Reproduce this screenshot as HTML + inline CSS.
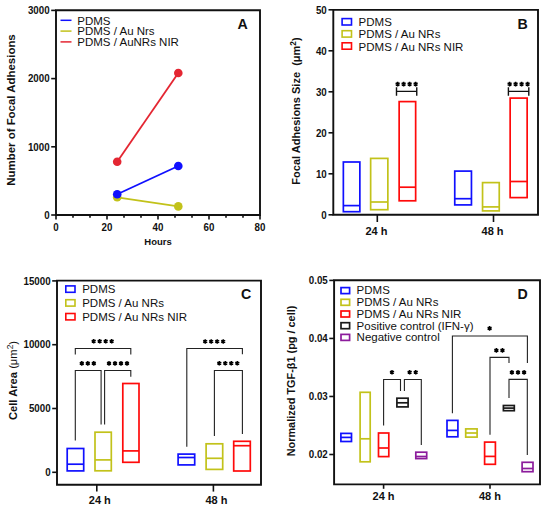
<!DOCTYPE html>
<html><head><meta charset="utf-8"><style>
html,body{margin:0;padding:0;background:#fff;width:550px;height:508px;overflow:hidden}
svg{display:block}
text{font-family:"Liberation Sans",sans-serif}
</style></head><body>
<svg width="550" height="508" viewBox="0 0 550 508">
<rect width="550" height="508" fill="#fff"/>
<path d="M56,10.3 H260 V215 H56 Z" fill="none" stroke="#111" stroke-width="1.9"/>
<line x1="51.2" y1="215" x2="56" y2="215" stroke="#111" stroke-width="1.6"/>
<text transform="translate(49.6,218.7) scale(0.93,1)" font-size="10.5" font-weight="bold" text-anchor="end" fill="#111">0</text>
<line x1="51.2" y1="146.8" x2="56" y2="146.8" stroke="#111" stroke-width="1.6"/>
<text transform="translate(49.6,150.5) scale(0.93,1)" font-size="10.5" font-weight="bold" text-anchor="end" fill="#111">1000</text>
<line x1="51.2" y1="78.6" x2="56" y2="78.6" stroke="#111" stroke-width="1.6"/>
<text transform="translate(49.6,82.3) scale(0.93,1)" font-size="10.5" font-weight="bold" text-anchor="end" fill="#111">2000</text>
<line x1="51.2" y1="10.4" x2="56" y2="10.4" stroke="#111" stroke-width="1.6"/>
<text transform="translate(49.6,14.100000000000001) scale(0.93,1)" font-size="10.5" font-weight="bold" text-anchor="end" fill="#111">3000</text>
<line x1="56" y1="215" x2="56" y2="219.5" stroke="#111" stroke-width="1.6"/>
<text transform="translate(56,230.8) scale(0.93,1)" font-size="10.5" font-weight="bold" text-anchor="middle" fill="#111">0</text>
<line x1="73" y1="215" x2="73" y2="217.8" stroke="#111" stroke-width="1.6"/>
<line x1="90" y1="215" x2="90" y2="217.8" stroke="#111" stroke-width="1.6"/>
<line x1="107" y1="215" x2="107" y2="219.5" stroke="#111" stroke-width="1.6"/>
<text transform="translate(107,230.8) scale(0.93,1)" font-size="10.5" font-weight="bold" text-anchor="middle" fill="#111">20</text>
<line x1="124" y1="215" x2="124" y2="217.8" stroke="#111" stroke-width="1.6"/>
<line x1="141" y1="215" x2="141" y2="217.8" stroke="#111" stroke-width="1.6"/>
<line x1="158" y1="215" x2="158" y2="219.5" stroke="#111" stroke-width="1.6"/>
<text transform="translate(158,230.8) scale(0.93,1)" font-size="10.5" font-weight="bold" text-anchor="middle" fill="#111">40</text>
<line x1="175" y1="215" x2="175" y2="217.8" stroke="#111" stroke-width="1.6"/>
<line x1="192" y1="215" x2="192" y2="217.8" stroke="#111" stroke-width="1.6"/>
<line x1="209" y1="215" x2="209" y2="219.5" stroke="#111" stroke-width="1.6"/>
<text transform="translate(209,230.8) scale(0.93,1)" font-size="10.5" font-weight="bold" text-anchor="middle" fill="#111">60</text>
<line x1="226" y1="215" x2="226" y2="217.8" stroke="#111" stroke-width="1.6"/>
<line x1="243" y1="215" x2="243" y2="217.8" stroke="#111" stroke-width="1.6"/>
<line x1="260" y1="215" x2="260" y2="219.5" stroke="#111" stroke-width="1.6"/>
<text transform="translate(260,230.8) scale(0.93,1)" font-size="10.5" font-weight="bold" text-anchor="middle" fill="#111">80</text>
<text x="158" y="244.9" font-size="9.5" font-weight="bold" text-anchor="middle" fill="#111" >Hours</text>
<text transform="translate(14.9,110) rotate(-90)" x="0" y="0" font-size="11.45" font-weight="bold" text-anchor="middle" fill="#111">Number of Focal Adhesions</text>
<line x1="117.2" y1="161.8" x2="178.3" y2="73" stroke="#e42632" stroke-width="1.8"/>
<circle cx="117.2" cy="161.8" r="4.3" fill="#e42632"/><circle cx="178.3" cy="73" r="4.3" fill="#e42632"/>
<line x1="117.2" y1="197.3" x2="178.3" y2="206.4" stroke="#c2c21a" stroke-width="1.8"/>
<circle cx="117.2" cy="197.3" r="4.3" fill="#c2c21a"/><circle cx="178.3" cy="206.4" r="4.3" fill="#c2c21a"/>
<line x1="117.2" y1="194.2" x2="178.3" y2="166" stroke="#1010ff" stroke-width="1.8"/>
<circle cx="117.2" cy="194.2" r="4.3" fill="#1010ff"/><circle cx="178.3" cy="166" r="4.3" fill="#1010ff"/>
<line x1="60.5" y1="20.3" x2="71.5" y2="20.3" stroke="#1010ff" stroke-width="1.5"/>
<text x="77.3" y="24.5" font-size="11.5" font-weight="normal" text-anchor="start" fill="#111" >PDMS</text>
<line x1="60.5" y1="31.1" x2="71.5" y2="31.1" stroke="#c2c21a" stroke-width="1.5"/>
<text x="77.3" y="35.300000000000004" font-size="11.5" font-weight="normal" text-anchor="start" fill="#111" >PDMS / Au Nrs</text>
<line x1="60.5" y1="41.900000000000006" x2="71.5" y2="41.900000000000006" stroke="#e42632" stroke-width="1.5"/>
<text x="77.3" y="46.10000000000001" font-size="11.5" font-weight="normal" text-anchor="start" fill="#111" >PDMS / AuNRs NIR</text>
<text x="242.5" y="28.9" font-size="14.2" font-weight="bold" text-anchor="middle" fill="#111" >A</text>
<path d="M333.3,9.9 H538 V214.8 H333.3 Z" fill="none" stroke="#111" stroke-width="1.9"/>
<line x1="328.5" y1="214.8" x2="333.3" y2="214.8" stroke="#111" stroke-width="1.6"/>
<text transform="translate(326.8,218.5) scale(0.93,1)" font-size="10.5" font-weight="bold" text-anchor="end" fill="#111">0</text>
<line x1="328.5" y1="173.8" x2="333.3" y2="173.8" stroke="#111" stroke-width="1.6"/>
<text transform="translate(326.8,177.5) scale(0.93,1)" font-size="10.5" font-weight="bold" text-anchor="end" fill="#111">10</text>
<line x1="328.5" y1="132.8" x2="333.3" y2="132.8" stroke="#111" stroke-width="1.6"/>
<text transform="translate(326.8,136.5) scale(0.93,1)" font-size="10.5" font-weight="bold" text-anchor="end" fill="#111">20</text>
<line x1="328.5" y1="91.80000000000001" x2="333.3" y2="91.80000000000001" stroke="#111" stroke-width="1.6"/>
<text transform="translate(326.8,95.50000000000001) scale(0.93,1)" font-size="10.5" font-weight="bold" text-anchor="end" fill="#111">30</text>
<line x1="328.5" y1="50.80000000000001" x2="333.3" y2="50.80000000000001" stroke="#111" stroke-width="1.6"/>
<text transform="translate(326.8,54.500000000000014) scale(0.93,1)" font-size="10.5" font-weight="bold" text-anchor="end" fill="#111">40</text>
<line x1="328.5" y1="9.800000000000011" x2="333.3" y2="9.800000000000011" stroke="#111" stroke-width="1.6"/>
<text transform="translate(326.8,13.50000000000001) scale(0.93,1)" font-size="10.5" font-weight="bold" text-anchor="end" fill="#111">50</text>
<line x1="377.3" y1="214.8" x2="377.3" y2="222" stroke="#111" stroke-width="1.6"/>
<text x="376.40000000000003" y="235" font-size="11" font-weight="bold" text-anchor="middle" fill="#111" >24 h</text>
<line x1="493.5" y1="214.8" x2="493.5" y2="222" stroke="#111" stroke-width="1.6"/>
<text x="492.6" y="235" font-size="11" font-weight="bold" text-anchor="middle" fill="#111" >48 h</text>
<rect x="343.35" y="162.0" width="16.5" height="49.70000000000002" fill="none" stroke="#1010ff" stroke-width="1.7"/>
<line x1="343.35" y1="205.6" x2="359.85" y2="205.6" stroke="#1010ff" stroke-width="1.7"/>
<rect x="370.65" y="158.39999999999998" width="17.200000000000045" height="51.30000000000004" fill="none" stroke="#c2c21a" stroke-width="1.7"/>
<line x1="370.65" y1="202" x2="387.85" y2="202" stroke="#c2c21a" stroke-width="1.7"/>
<rect x="399.15" y="101.60000000000001" width="16.5" height="99.2" fill="none" stroke="#ff0a0a" stroke-width="1.7"/>
<line x1="399.15" y1="187.2" x2="415.65" y2="187.2" stroke="#ff0a0a" stroke-width="1.7"/>
<rect x="454.75" y="171.1" width="16.69999999999999" height="33.80000000000001" fill="none" stroke="#1010ff" stroke-width="1.7"/>
<line x1="454.75" y1="198.7" x2="471.45" y2="198.7" stroke="#1010ff" stroke-width="1.7"/>
<rect x="482.55" y="182.6" width="16.69999999999999" height="28.30000000000001" fill="none" stroke="#c2c21a" stroke-width="1.7"/>
<line x1="482.55" y1="206.9" x2="499.25" y2="206.9" stroke="#c2c21a" stroke-width="1.7"/>
<rect x="510.15" y="98.10000000000001" width="17.0" height="99.50000000000001" fill="none" stroke="#ff0a0a" stroke-width="1.7"/>
<line x1="510.15" y1="181.5" x2="527.15" y2="181.5" stroke="#ff0a0a" stroke-width="1.7"/>
<path d="M396.5,87.2 V95.8 M416.75,87.2 V95.8 M396.5,91.4 H416.75" fill="none" stroke="#111" stroke-width="1.4"/>
<path d="M397.62,81.80L397.62,86.40M395.63,82.95L399.62,85.25M399.62,82.95L395.63,85.25" stroke="#000" stroke-width="1.5" fill="none"/>
<path d="M403.62,81.80L403.62,86.40M401.63,82.95L405.62,85.25M405.62,82.95L401.63,85.25" stroke="#000" stroke-width="1.5" fill="none"/>
<path d="M409.62,81.80L409.62,86.40M407.63,82.95L411.62,85.25M411.62,82.95L407.63,85.25" stroke="#000" stroke-width="1.5" fill="none"/>
<path d="M415.62,81.80L415.62,86.40M413.63,82.95L417.62,85.25M417.62,82.95L413.63,85.25" stroke="#000" stroke-width="1.5" fill="none"/>
<path d="M508.4,87.2 V95.8 M528.8,87.2 V95.8 M508.4,91.4 H528.8" fill="none" stroke="#111" stroke-width="1.4"/>
<path d="M509.60,81.80L509.60,86.40M507.61,82.95L511.59,85.25M511.59,82.95L507.61,85.25" stroke="#000" stroke-width="1.5" fill="none"/>
<path d="M515.60,81.80L515.60,86.40M513.61,82.95L517.59,85.25M517.59,82.95L513.61,85.25" stroke="#000" stroke-width="1.5" fill="none"/>
<path d="M521.60,81.80L521.60,86.40M519.61,82.95L523.59,85.25M523.59,82.95L519.61,85.25" stroke="#000" stroke-width="1.5" fill="none"/>
<path d="M527.60,81.80L527.60,86.40M525.61,82.95L529.59,85.25M529.59,82.95L525.61,85.25" stroke="#000" stroke-width="1.5" fill="none"/>
<rect x="342.1" y="18.6" width="9.4" height="6.4" fill="none" stroke="#1010ff" stroke-width="1.6"/>
<text x="358.6" y="26.3" font-size="11.5" font-weight="normal" text-anchor="start" fill="#111" >PDMS</text>
<rect x="342.1" y="30.7" width="9.4" height="6.4" fill="none" stroke="#c2c21a" stroke-width="1.6"/>
<text x="358.6" y="38.4" font-size="11.5" font-weight="normal" text-anchor="start" fill="#111" >PDMS / Au NRs</text>
<rect x="342.1" y="42.8" width="9.4" height="6.4" fill="none" stroke="#ff0a0a" stroke-width="1.6"/>
<text x="358.6" y="50.5" font-size="11.5" font-weight="normal" text-anchor="start" fill="#111" >PDMS / Au NRs NIR</text>
<text x="522.7" y="29" font-size="14.2" font-weight="bold" text-anchor="middle" fill="#111" >B</text>
<text transform="translate(300.3,111) rotate(-90)" x="0" y="0" font-size="11" font-weight="bold" text-anchor="middle" fill="#111">Focal Adhesions Size&#160;&#160;(&#956;m<tspan dy="-4.6" font-size="8.4">2</tspan><tspan dy="4.6">)</tspan></text>
<path d="M57,280.6 H261 V484.8 H57 Z" fill="none" stroke="#111" stroke-width="1.9"/>
<line x1="52.2" y1="472.3" x2="57" y2="472.3" stroke="#111" stroke-width="1.6"/>
<text transform="translate(50.6,476.0) scale(0.93,1)" font-size="10.5" font-weight="bold" text-anchor="end" fill="#111">0</text>
<line x1="52.2" y1="408.5" x2="57" y2="408.5" stroke="#111" stroke-width="1.6"/>
<text transform="translate(50.6,412.2) scale(0.93,1)" font-size="10.5" font-weight="bold" text-anchor="end" fill="#111">5000</text>
<line x1="52.2" y1="344.70000000000005" x2="57" y2="344.70000000000005" stroke="#111" stroke-width="1.6"/>
<text transform="translate(50.6,348.40000000000003) scale(0.93,1)" font-size="10.5" font-weight="bold" text-anchor="end" fill="#111">10000</text>
<line x1="52.2" y1="280.90000000000003" x2="57" y2="280.90000000000003" stroke="#111" stroke-width="1.6"/>
<text transform="translate(50.6,284.6) scale(0.93,1)" font-size="10.5" font-weight="bold" text-anchor="end" fill="#111">15000</text>
<line x1="96.8" y1="484.8" x2="96.8" y2="491.6" stroke="#111" stroke-width="1.6"/>
<text x="99.8" y="503.6" font-size="11" font-weight="bold" text-anchor="middle" fill="#111" >24 h</text>
<line x1="213.4" y1="484.8" x2="213.4" y2="491.6" stroke="#111" stroke-width="1.6"/>
<text x="216.4" y="503.6" font-size="11" font-weight="bold" text-anchor="middle" fill="#111" >48 h</text>
<rect x="67.2" y="448.5" width="16.499999999999986" height="22.400000000000034" fill="none" stroke="#1010ff" stroke-width="1.7"/>
<line x1="67.2" y1="464.2" x2="83.69999999999999" y2="464.2" stroke="#1010ff" stroke-width="1.7"/>
<rect x="95.0" y="432.2" width="16.299999999999997" height="38.60000000000002" fill="none" stroke="#c2c21a" stroke-width="1.7"/>
<line x1="95.0" y1="459.9" x2="111.3" y2="459.9" stroke="#c2c21a" stroke-width="1.7"/>
<rect x="122.80000000000001" y="383.5" width="16.19999999999999" height="78.80000000000001" fill="none" stroke="#ff0a0a" stroke-width="1.7"/>
<line x1="122.80000000000001" y1="450.9" x2="139.0" y2="450.9" stroke="#ff0a0a" stroke-width="1.7"/>
<rect x="178.1" y="454.09999999999997" width="16.599999999999994" height="10.800000000000068" fill="none" stroke="#1010ff" stroke-width="1.7"/>
<line x1="178.1" y1="457.5" x2="194.7" y2="457.5" stroke="#1010ff" stroke-width="1.7"/>
<rect x="206.1" y="443.79999999999995" width="16.599999999999994" height="25.60000000000008" fill="none" stroke="#c2c21a" stroke-width="1.7"/>
<line x1="206.1" y1="458.3" x2="222.7" y2="458.3" stroke="#c2c21a" stroke-width="1.7"/>
<rect x="233.70000000000002" y="441.29999999999995" width="16.599999999999966" height="29.700000000000045" fill="none" stroke="#ff0a0a" stroke-width="1.7"/>
<line x1="233.70000000000002" y1="445.7" x2="250.29999999999998" y2="445.7" stroke="#ff0a0a" stroke-width="1.7"/>
<path d="M75.3,354.5 V348.5 H130.8 V354.5" fill="none" stroke="#222" stroke-width="1.1"/>
<path d="M75.3,440.5 V370.5 H101.1 V424.5" fill="none" stroke="#222" stroke-width="1.1"/>
<path d="M104.6,424.5 V370.5 H130.8 V376.7" fill="none" stroke="#222" stroke-width="1.1"/>
<path d="M93.70,338.90L93.70,343.50M91.71,340.05L95.69,342.35M95.69,340.05L91.71,342.35" stroke="#000" stroke-width="1.5" fill="none"/>
<path d="M99.70,338.90L99.70,343.50M97.71,340.05L101.69,342.35M101.69,340.05L97.71,342.35" stroke="#000" stroke-width="1.5" fill="none"/>
<path d="M105.70,338.90L105.70,343.50M103.71,340.05L107.69,342.35M107.69,340.05L103.71,342.35" stroke="#000" stroke-width="1.5" fill="none"/>
<path d="M111.70,338.90L111.70,343.50M109.71,340.05L113.69,342.35M113.69,340.05L109.71,342.35" stroke="#000" stroke-width="1.5" fill="none"/>
<path d="M81.80,361.10L81.80,365.70M79.81,362.25L83.79,364.55M83.79,362.25L79.81,364.55" stroke="#000" stroke-width="1.5" fill="none"/>
<path d="M87.80,361.10L87.80,365.70M85.81,362.25L89.79,364.55M89.79,362.25L85.81,364.55" stroke="#000" stroke-width="1.5" fill="none"/>
<path d="M93.80,361.10L93.80,365.70M91.81,362.25L95.79,364.55M95.79,362.25L91.81,364.55" stroke="#000" stroke-width="1.5" fill="none"/>
<path d="M109.00,361.10L109.00,365.70M107.01,362.25L110.99,364.55M110.99,362.25L107.01,364.55" stroke="#000" stroke-width="1.5" fill="none"/>
<path d="M115.00,361.10L115.00,365.70M113.01,362.25L116.99,364.55M116.99,362.25L113.01,364.55" stroke="#000" stroke-width="1.5" fill="none"/>
<path d="M121.00,361.10L121.00,365.70M119.01,362.25L122.99,364.55M122.99,362.25L119.01,364.55" stroke="#000" stroke-width="1.5" fill="none"/>
<path d="M127.00,361.10L127.00,365.70M125.01,362.25L128.99,364.55M128.99,362.25L125.01,364.55" stroke="#000" stroke-width="1.5" fill="none"/>
<path d="M186.8,446.7 V348.5 H242.4 V354.2" fill="none" stroke="#222" stroke-width="1.1"/>
<path d="M214.4,436.1 V370.5 H242.4 V434.1" fill="none" stroke="#222" stroke-width="1.1"/>
<path d="M205.20,339.20L205.20,343.80M203.21,340.35L207.19,342.65M207.19,340.35L203.21,342.65" stroke="#000" stroke-width="1.5" fill="none"/>
<path d="M211.20,339.20L211.20,343.80M209.21,340.35L213.19,342.65M213.19,340.35L209.21,342.65" stroke="#000" stroke-width="1.5" fill="none"/>
<path d="M217.20,339.20L217.20,343.80M215.21,340.35L219.19,342.65M219.19,340.35L215.21,342.65" stroke="#000" stroke-width="1.5" fill="none"/>
<path d="M223.20,339.20L223.20,343.80M221.21,340.35L225.19,342.65M225.19,340.35L221.21,342.65" stroke="#000" stroke-width="1.5" fill="none"/>
<path d="M219.30,361.00L219.30,365.60M217.31,362.15L221.29,364.45M221.29,362.15L217.31,364.45" stroke="#000" stroke-width="1.5" fill="none"/>
<path d="M225.30,361.00L225.30,365.60M223.31,362.15L227.29,364.45M227.29,362.15L223.31,364.45" stroke="#000" stroke-width="1.5" fill="none"/>
<path d="M231.30,361.00L231.30,365.60M229.31,362.15L233.29,364.45M233.29,362.15L229.31,364.45" stroke="#000" stroke-width="1.5" fill="none"/>
<path d="M237.30,361.00L237.30,365.60M235.31,362.15L239.29,364.45M239.29,362.15L235.31,364.45" stroke="#000" stroke-width="1.5" fill="none"/>
<rect x="65.8" y="285.9" width="9.2" height="6.4" fill="none" stroke="#1010ff" stroke-width="1.6"/>
<text x="82.2" y="293.09999999999997" font-size="11.5" font-weight="normal" text-anchor="start" fill="#111" >PDMS</text>
<rect x="65.8" y="299.7" width="9.2" height="6.4" fill="none" stroke="#c2c21a" stroke-width="1.6"/>
<text x="82.2" y="306.9" font-size="11.5" font-weight="normal" text-anchor="start" fill="#111" >PDMS / Au NRs</text>
<rect x="65.8" y="313.5" width="9.2" height="6.4" fill="none" stroke="#ff0a0a" stroke-width="1.6"/>
<text x="82.2" y="320.7" font-size="11.5" font-weight="normal" text-anchor="start" fill="#111" >PDMS / Au NRs NIR</text>
<text x="246" y="299" font-size="14.2" font-weight="bold" text-anchor="middle" fill="#111" >C</text>
<text transform="translate(17.3,380.5) rotate(-90)" x="0" y="0" font-size="11.2" font-weight="bold" text-anchor="middle" fill="#111">Cell Area <tspan font-weight="normal">(&#956;m<tspan dy="-4.6" font-size="8.4">2</tspan><tspan dy="4.6">)</tspan></tspan></text>
<path d="M334.1,280.2 H540 V484.4 H334.1 Z" fill="none" stroke="#111" stroke-width="1.9"/>
<line x1="329.3" y1="454.5" x2="334.1" y2="454.5" stroke="#111" stroke-width="1.6"/>
<text transform="translate(327.8,458.2) scale(0.93,1)" font-size="10.5" font-weight="bold" text-anchor="end" fill="#111">0.02</text>
<line x1="329.3" y1="396.47" x2="334.1" y2="396.47" stroke="#111" stroke-width="1.6"/>
<text transform="translate(327.8,400.17) scale(0.93,1)" font-size="10.5" font-weight="bold" text-anchor="end" fill="#111">0.03</text>
<line x1="329.3" y1="338.44" x2="334.1" y2="338.44" stroke="#111" stroke-width="1.6"/>
<text transform="translate(327.8,342.14) scale(0.93,1)" font-size="10.5" font-weight="bold" text-anchor="end" fill="#111">0.04</text>
<line x1="329.3" y1="280.40999999999997" x2="334.1" y2="280.40999999999997" stroke="#111" stroke-width="1.6"/>
<text transform="translate(327.8,284.10999999999996) scale(0.93,1)" font-size="10.5" font-weight="bold" text-anchor="end" fill="#111">0.05</text>
<line x1="383.6" y1="484.4" x2="383.6" y2="488.8" stroke="#111" stroke-width="1.6"/>
<text x="383.6" y="499.9" font-size="11" font-weight="bold" text-anchor="middle" fill="#111" >24 h</text>
<line x1="490" y1="484.4" x2="490" y2="488.8" stroke="#111" stroke-width="1.6"/>
<text x="490" y="499.9" font-size="11" font-weight="bold" text-anchor="middle" fill="#111" >48 h</text>
<rect x="340.90000000000003" y="433.40000000000003" width="10.599999999999966" height="8.099999999999966" fill="none" stroke="#1010ff" stroke-width="1.7"/>
<line x1="340.90000000000003" y1="437.4" x2="351.5" y2="437.4" stroke="#1010ff" stroke-width="1.7"/>
<rect x="360.1" y="392.3" width="10.099999999999966" height="69.49999999999994" fill="none" stroke="#c2c21a" stroke-width="1.7"/>
<line x1="360.1" y1="438.8" x2="370.2" y2="438.8" stroke="#c2c21a" stroke-width="1.7"/>
<rect x="378.5" y="433.0" width="10.299999999999955" height="23.599999999999966" fill="none" stroke="#ff0a0a" stroke-width="1.7"/>
<line x1="378.5" y1="448" x2="388.79999999999995" y2="448" stroke="#ff0a0a" stroke-width="1.7"/>
<rect x="396.90000000000003" y="398.20000000000005" width="11.199999999999932" height="8.699999999999932" fill="none" stroke="#1a1a1a" stroke-width="1.7"/>
<line x1="396.90000000000003" y1="402.8" x2="408.09999999999997" y2="402.8" stroke="#1a1a1a" stroke-width="1.7"/>
<rect x="415.8" y="452.20000000000005" width="10.899999999999977" height="6.39999999999992" fill="none" stroke="#8c1c9c" stroke-width="1.7"/>
<line x1="415.8" y1="456.5" x2="426.7" y2="456.5" stroke="#8c1c9c" stroke-width="1.7"/>
<rect x="447.0" y="420.40000000000003" width="10.899999999999977" height="16.39999999999992" fill="none" stroke="#1010ff" stroke-width="1.7"/>
<line x1="447.0" y1="430.4" x2="457.9" y2="430.4" stroke="#1010ff" stroke-width="1.7"/>
<rect x="465.70000000000005" y="428.90000000000003" width="11.39999999999992" height="8.199999999999932" fill="none" stroke="#c2c21a" stroke-width="1.7"/>
<line x1="465.70000000000005" y1="433" x2="477.09999999999997" y2="433" stroke="#c2c21a" stroke-width="1.7"/>
<rect x="484.6" y="442.1" width="10.799999999999955" height="22.199999999999932" fill="none" stroke="#ff0a0a" stroke-width="1.7"/>
<line x1="484.6" y1="456.4" x2="495.4" y2="456.4" stroke="#ff0a0a" stroke-width="1.7"/>
<rect x="503.40000000000003" y="405.5" width="10.89999999999992" height="5.199999999999989" fill="none" stroke="#1a1a1a" stroke-width="1.7"/>
<line x1="503.40000000000003" y1="408.1" x2="514.3" y2="408.1" stroke="#1a1a1a" stroke-width="1.7"/>
<rect x="522.1" y="462.3" width="10.899999999999977" height="9.399999999999977" fill="none" stroke="#8c1c9c" stroke-width="1.7"/>
<line x1="522.1" y1="468.5" x2="533.0" y2="468.5" stroke="#8c1c9c" stroke-width="1.7"/>
<path d="M383.6,425.4 V379.5 H400.5 V391" fill="none" stroke="#222" stroke-width="1.1"/>
<path d="M404.4,391 V379.5 H421.3 V445" fill="none" stroke="#222" stroke-width="1.1"/>
<path d="M392.00,369.90L392.00,374.50M390.01,371.05L393.99,373.35M393.99,371.05L390.01,373.35" stroke="#000" stroke-width="1.5" fill="none"/>
<path d="M409.65,369.90L409.65,374.50M407.66,371.05L411.64,373.35M411.64,371.05L407.66,373.35" stroke="#000" stroke-width="1.5" fill="none"/>
<path d="M415.75,369.90L415.75,374.50M413.76,371.05L417.74,373.35M417.74,371.05L413.76,373.35" stroke="#000" stroke-width="1.5" fill="none"/>
<path d="M452.4,413.2 V336 H527.4 V363" fill="none" stroke="#222" stroke-width="1.1"/>
<path d="M490,434.7 V357.4 H509 V363" fill="none" stroke="#222" stroke-width="1.1"/>
<path d="M509,398 V379.4 H527.3 V454.9" fill="none" stroke="#222" stroke-width="1.1"/>
<path d="M489.60,326.10L489.60,330.70M487.61,327.25L491.59,329.55M491.59,327.25L487.61,329.55" stroke="#000" stroke-width="1.5" fill="none"/>
<path d="M496.35,348.10L496.35,352.70M494.36,349.25L498.34,351.55M498.34,349.25L494.36,351.55" stroke="#000" stroke-width="1.5" fill="none"/>
<path d="M502.45,348.10L502.45,352.70M500.46,349.25L504.44,351.55M504.44,349.25L500.46,351.55" stroke="#000" stroke-width="1.5" fill="none"/>
<path d="M511.90,370.10L511.90,374.70M509.91,371.25L513.89,373.55M513.89,371.25L509.91,373.55" stroke="#000" stroke-width="1.5" fill="none"/>
<path d="M518.00,370.10L518.00,374.70M516.01,371.25L519.99,373.55M519.99,371.25L516.01,373.55" stroke="#000" stroke-width="1.5" fill="none"/>
<path d="M524.10,370.10L524.10,374.70M522.11,371.25L526.09,373.55M526.09,371.25L522.11,373.55" stroke="#000" stroke-width="1.5" fill="none"/>
<rect x="341" y="287.6" width="8.6" height="6.0" fill="none" stroke="#1010ff" stroke-width="1.7"/>
<text x="356.6" y="294.4" font-size="11.5" font-weight="normal" text-anchor="start" fill="#111" >PDMS</text>
<rect x="341" y="299.3" width="8.6" height="6.0" fill="none" stroke="#c2c21a" stroke-width="1.7"/>
<text x="356.6" y="306.09999999999997" font-size="11.5" font-weight="normal" text-anchor="start" fill="#111" >PDMS / Au NRs</text>
<rect x="341" y="311.0" width="8.6" height="6.0" fill="none" stroke="#ff0a0a" stroke-width="1.7"/>
<text x="356.6" y="317.79999999999995" font-size="11.5" font-weight="normal" text-anchor="start" fill="#111" >PDMS / Au NRs NIR</text>
<rect x="341" y="322.70000000000005" width="8.6" height="6.0" fill="none" stroke="#1a1a1a" stroke-width="1.7"/>
<text x="356.6" y="329.5" font-size="11.5" font-weight="normal" text-anchor="start" fill="#111" >Positive control (IFN-&#947;)</text>
<rect x="341" y="334.40000000000003" width="8.6" height="6.0" fill="none" stroke="#8c1c9c" stroke-width="1.7"/>
<text x="356.6" y="341.2" font-size="11.5" font-weight="normal" text-anchor="start" fill="#111" >Negative control</text>
<text x="522.7" y="299" font-size="14.2" font-weight="bold" text-anchor="middle" fill="#111" >D</text>
<text transform="translate(295.2,381) rotate(-90)" x="0" y="0" font-size="10.9" font-weight="bold" text-anchor="middle" fill="#111">Normalized TGF-&#946;1 (pg / cell)</text>
</svg>
</body></html>
